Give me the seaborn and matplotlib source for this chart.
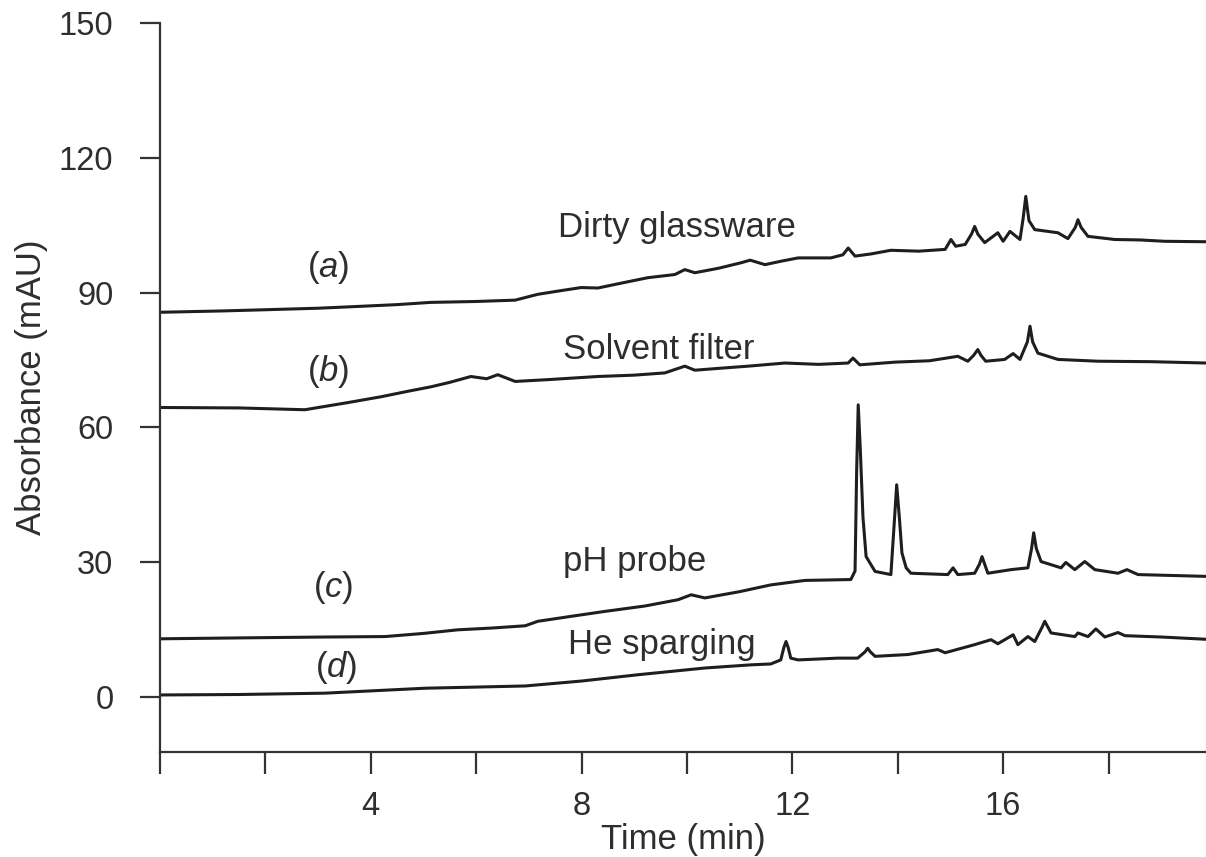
import matplotlib
matplotlib.use("Agg")
import matplotlib.pyplot as plt
import seaborn as sns
import pandas as pd

# ---------------- data ----------------
a_time = [0.0, 1.2, 2.11, 3.0, 3.76, 4.5, 5.14, 6.0, 6.74, 7.17, 7.6, 7.99, 8.31, 8.8, 9.26, 9.77,
          9.96, 10.15, 10.6, 11.02, 11.2, 11.48, 11.8, 12.11, 12.73, 12.96, 13.06, 13.19, 13.5,
          13.87, 14.4, 14.90, 15.01, 15.10, 15.28, 15.40, 15.46, 15.52, 15.65, 15.90, 16.00,
          16.13, 16.32, 16.38, 16.43, 16.49, 16.60, 17.04, 17.23, 17.37, 17.42, 17.48, 17.61,
          18.12, 18.6, 19.07, 19.85]
a_abs = [85.6, 85.9, 86.2, 86.5, 86.9, 87.3, 87.8, 88.0, 88.3, 89.6, 90.4, 91.1, 91.0, 92.2, 93.3, 94.0,
         95.1, 94.4, 95.4, 96.6, 97.2, 96.2, 97.0, 97.7, 97.7, 98.4, 99.9, 98.1, 98.6,
         99.4, 99.2, 99.6, 101.8, 100.3, 100.7, 103.0, 104.7, 103.0, 101.1, 103.3, 101.4,
         103.6, 101.8, 106.5, 111.4, 106.0, 104.0, 103.3, 102.0, 104.5, 106.2, 104.5, 102.5,
         101.8, 101.7, 101.4, 101.3]

b_time = [0.0, 1.5, 2.75, 3.57, 4.2, 4.7, 5.14, 5.5, 5.9, 6.2, 6.41, 6.74, 7.36, 8.31, 9.0, 9.58,
          9.96, 10.15, 10.7, 11.16, 11.86, 12.5, 13.06, 13.15, 13.28, 13.95, 14.6, 15.14, 15.33,
          15.44, 15.52, 15.58, 15.67, 16.03, 16.19, 16.32, 16.46, 16.51, 16.56, 16.66, 17.04,
          17.80, 18.8, 19.85]
b_abs = [64.4, 64.3, 63.9, 65.5, 66.8, 68.0, 69.0, 70.0, 71.3, 70.8, 71.7, 70.2, 70.6, 71.3, 71.6, 72.1,
         73.6, 72.7, 73.2, 73.6, 74.3, 74.0, 74.3, 75.4, 73.9, 74.5, 74.8, 75.8, 74.7,
         76.0, 77.3, 76.0, 74.7, 75.1, 76.4, 75.1, 79.0, 82.5, 79.0, 76.5, 75.1,
         74.7, 74.6, 74.3]

c_time = [0.0, 1.5, 3.13, 4.27, 5.0, 5.65, 6.3, 6.93, 7.17, 7.8, 8.44, 9.2, 9.83, 10.08, 10.34,
          11.0, 11.59, 12.24, 12.7, 13.11, 13.19, 13.22, 13.25, 13.29, 13.34, 13.40, 13.57,
          13.87, 13.93, 13.98, 14.03, 14.08, 14.16, 14.25, 14.95, 15.05, 15.14, 15.46, 15.55,
          15.60, 15.65, 15.71, 16.15, 16.47, 16.54, 16.58, 16.63, 16.72, 17.10, 17.19, 17.36,
          17.55, 17.74, 18.18, 18.35, 18.56, 19.85]
c_abs = [12.9, 13.1, 13.3, 13.4, 14.1, 14.9, 15.3, 15.8, 16.8, 17.9, 19.0, 20.2, 21.6, 22.7, 22.0,
         23.4, 24.9, 25.9, 26.0, 26.1, 28.0, 50.0, 65.0, 55.0, 40.0, 31.2, 27.9,
         27.2, 38.0, 47.2, 40.0, 32.0, 28.7, 27.5, 27.2, 28.7, 27.2, 27.5, 29.5,
         31.2, 29.5, 27.5, 28.3, 28.7, 33.0, 36.5, 33.0, 30.1, 28.7, 29.9, 28.3,
         30.1, 28.3, 27.5, 28.3, 27.2, 26.8]

d_time = [0.0, 1.5, 3.13, 5.03, 6.93, 8.0, 9.07, 10.34, 11.21, 11.59, 11.78, 11.84, 11.88, 11.92,
          11.97, 12.11, 12.87, 13.24, 13.38, 13.43, 13.48, 13.57, 14.19, 14.76, 14.90, 15.46,
          15.77, 15.90, 16.19, 16.28, 16.47, 16.60, 16.74, 16.79, 16.85, 16.91, 17.36, 17.42,
          17.61, 17.76, 17.93, 18.18, 18.31, 19.0, 19.85]
d_abs = [0.4, 0.5, 0.8, 1.9, 2.4, 3.5, 4.9, 6.4, 7.1, 7.3, 8.2, 11.0, 12.3, 11.0,
         8.6, 8.2, 8.6, 8.6, 10.0, 10.8, 10.0, 9.0, 9.4, 10.5, 9.8, 11.6,
         12.7, 11.8, 13.8, 11.6, 13.4, 12.3, 15.5, 16.8, 15.5, 14.2, 13.4, 14.2,
         13.4, 15.1, 13.3, 14.3, 13.6, 13.3, 12.8]

trace_names = ["Dirty glassware", "Solvent filter", "pH probe", "He sparging"]
trace_letters = ["a", "b", "c", "d"]
x_ticks = [0, 2, 4, 6, 8, 10, 12, 14, 16, 18]
x_tick_labels = ["", "", "4", "", "8", "", "12", "", "16", ""]
y_ticks = [0, 30, 60, 90, 120, 150]
y_tick_labels = ["0", "30", "60", "90", "120", "150"]

# ---------------- style ----------------
sns.set_style("ticks")
plt.rcParams["font.family"] = ["Liberation Sans", "DejaVu Sans"]
plt.rcParams["mathtext.fontset"] = "custom"
plt.rcParams["mathtext.rm"] = "Liberation Sans"
plt.rcParams["mathtext.it"] = "Liberation Sans:italic"

line_col = "#1e1e1e"
text_col = "#2e2e2e"

fig = plt.figure(figsize=(12.06, 8.57), dpi=100)
ax = fig.add_axes([160 / 1206, 105 / 857, 1 - 160 / 1206, (752 - 23) / 857])

times = [a_time, b_time, c_time, d_time]
values = [a_abs, b_abs, c_abs, d_abs]
for name, t, v in zip(trace_names, times, values):
    df = pd.DataFrame({"time": t, "abs": v})
    sns.lineplot(data=df, x="time", y="abs", ax=ax, color=line_col, linewidth=2.2,
                 estimator=None, sort=False, legend=False)

ax.set_xlim(0, 19.85)
ax.set_ylim(-12.3, 150)
ax.set_xticks(x_ticks)
ax.set_xticklabels(x_tick_labels)
ax.set_yticks(y_ticks)
ax.set_yticklabels(y_tick_labels)

for side in ["top", "right"]:
    ax.spines[side].set_visible(False)
for side in ["left", "bottom"]:
    ax.spines[side].set_linewidth(1.6)
    ax.spines[side].set_color("#333333")

ax.tick_params(axis="x", direction="out", length=16, width=1.6, pad=12,
               labelsize=23.5, colors="#333333", labelcolor=text_col)
ax.tick_params(axis="y", direction="out", length=14.5, width=1.6, pad=19,
               labelsize=23.5, colors="#333333", labelcolor=text_col)

ax.set_xlabel("Time (min)", fontsize=25, color=text_col, labelpad=1)
ax.set_ylabel("Absorbance (mAU)", fontsize=25, color=text_col, labelpad=8)

# annotations
name_pos = [(7.55, 104.5), (7.65, 77.3), (7.65, 30.1), (7.74, 11.6)]
letter_pos = [(3.19, 95.5), (3.19, 72.4), (3.28, 24.3), (3.34, 6.5)]
for name, (nx, ny) in zip(trace_names, name_pos):
    ax.text(nx, ny, name, fontsize=25, color=text_col, ha="left", va="center")
for letter, (lx, ly) in zip(trace_letters, letter_pos):
    ax.text(lx, ly, "($\\mathit{" + letter + "}$)", fontsize=25, color=text_col,
            ha="center", va="center")

fig.savefig("out.png", dpi=100)
